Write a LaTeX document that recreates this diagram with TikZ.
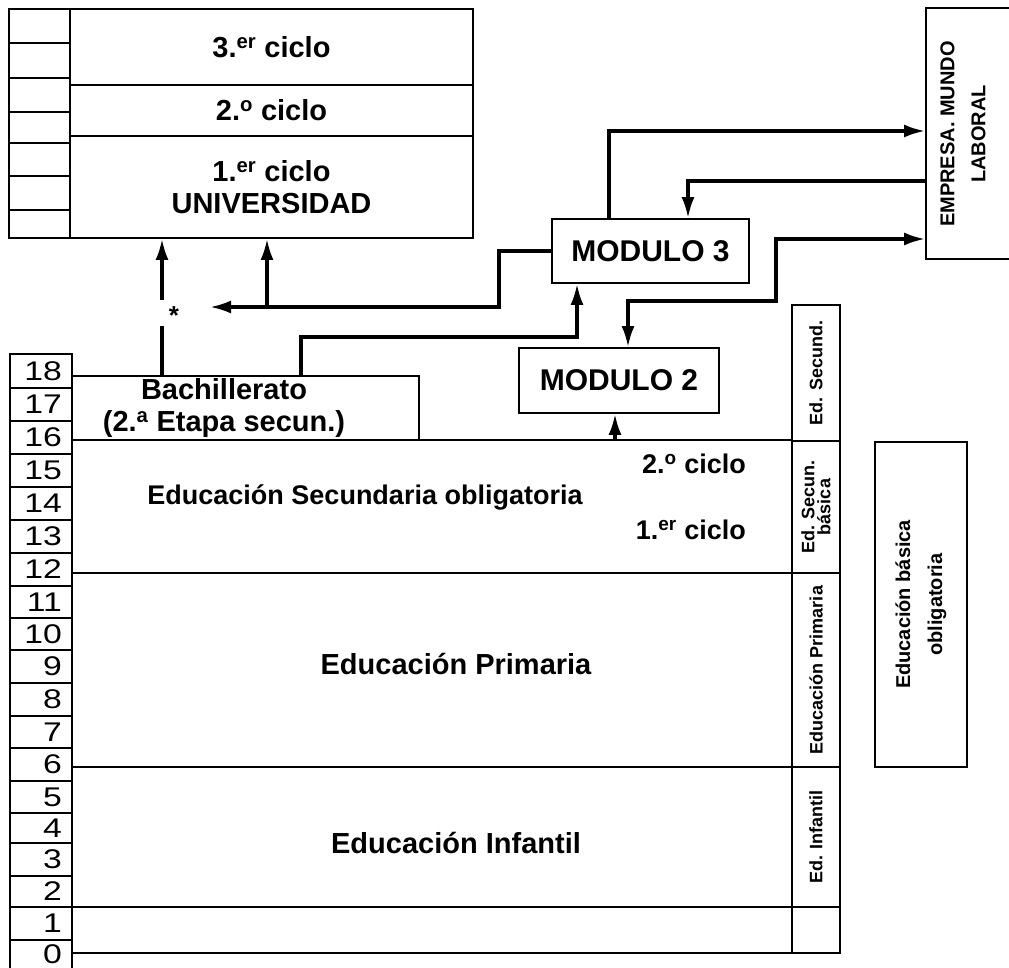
\documentclass[tikz,border=0pt]{standalone}
\usepackage{fontspec}
\setmainfont{Liberation Sans}
\newfontfamily\numfont[FakeStretch=1.25]{Liberation Sans}
\usetikzlibrary{arrows.meta,fit}
\newcommand{\sx}[1]{\textsuperscript{#1}}
\begin{document}
\begin{tikzpicture}[x=1pt,y=-1pt,
  box/.style={draw,line width=1.8pt,inner sep=0pt},
  conn/.style={line width=3.2pt},
  tip/.tip={Latex[length=21pt,width=13pt]},
  arr/.style={conn,-tip},
  dbl/.style={conn,tip-tip},
  txt/.style={inner sep=0pt,font=\fontsize{29}{32}\selectfont\bfseries,align=center},
  etxt/.style={inner sep=0pt,font=\fontsize{27}{30}\selectfont\bfseries,align=center},
  num/.style={inner sep=0pt,font=\numfont\fontsize{27}{27}\selectfont},
  vtxt/.style={inner sep=0pt,rotate=90,font=\fontsize{18}{18}\selectfont\bfseries,align=center},
]
\useasboundingbox (0,0) rectangle (1009,968);

% University block
\foreach \i/\t/\b in {1/9/43,2/43/78,3/78/112,4/112/143,5/143/176,6/176/210,7/210/238}{
  \node[box,fit={(9,\t)(70,\b)}] (sb\i) {};
}
\node[box,fit={(70,9)(473,85)}] (uni3) {};
\node[box,fit={(70,85)(473,136)}] (uni2) {};
\node[box,fit={(70,136)(473,238)}] (uni1) {};
\node[txt] (t3) at (uni3.center) {3.\sx{er} ciclo};
\node[txt] (t2) at (uni2.center) {2.\sx{o} ciclo};
\node[txt] (t1) at (uni1.center) {1.\sx{er} ciclo\\UNIVERSIDAD};

% Empresa
\node[box,fit={(926,8)(1040,259)}] (empresa) {};
\node[vtxt,font=\fontsize{20}{31}\selectfont\bfseries] (tempresa) at (963,134) {EMPRESA. MUNDO\\LABORAL};

% Modules
\node[box,fit={(552,219)(749,283)}] (mod3) {};
\node[txt,font=\fontsize{30}{32}\selectfont\bfseries] (tmod3) at (mod3.center) {MODULO 3};
\node[box,fit={(519,348)(719,413)}] (mod2) {};
\node[txt,font=\fontsize{30}{32}\selectfont\bfseries] (tmod2) at (mod2.center) {MODULO 2};

% Age column
\foreach \a/\t/\b in {18/354/388,17/388/421,16/421/454,15/454/487,14/487/520,13/520/553,12/553/586,11/586/618,10/618/650,9/650/683,8/683/716,7/716/748,6/748/781,5/781/813,4/813/843,3/843/876,2/876/907,1/907/940,0/940/990}{
  \node[box,fit={(10,\t)(72,\b)}] (age\a) {};
}
\foreach \a/\t/\b in {18/354/388,17/388/421,16/421/454,15/454/487,14/487/520,13/520/553,12/553/586,11/586/618,10/618/650,9/650/683,8/683/716,7/716/748,6/748/781,5/781/813,4/813/843,3/843/876,2/876/907,1/907/940,0/940/968}{
  \node[num,anchor=east] (agel\a) at (62,{(\t+\b)/2}) {\a};
}

% Main stages
\node[box,fit={(72,376)(419,440)}] (bach) {};
\node[txt] (tbach) at (224,408) {Bachillerato\\(2.\sx{a} Etapa secun.)};
\node[box,fit={(72,440)(792,573)}] (eso) {};
\node[etxt] (teso) at (365,497) {Educación Secundaria obligatoria};
\node[etxt,anchor=east] (teso2) at (746,464) {2.\sx{o} ciclo};
\node[etxt,anchor=east] (teso1) at (746,530) {1.\sx{er} ciclo};
\node[box,fit={(72,573)(792,767)}] (prim) {};
\node[txt] (tprim) at (456,664) {Educación Primaria};
\node[box,fit={(72,767)(792,907)}] (inf) {};
\node[txt] (tinf) at (456,843) {Educación Infantil};
\node[box,fit={(72,907)(792,953)}] (nur) {};

% Ed. column
\node[box,fit={(792,305)(840,441)}] (edsec) {};
\node[box,fit={(792,441)(840,573)}] (edbas) {};
\node[box,fit={(792,573)(840,767)}] (edprim) {};
\node[box,fit={(792,767)(840,907)}] (edinf) {};
\node[box,fit={(792,907)(840,953)}] (edemp) {};
\node[vtxt] (tedsec) at (edsec.center) {Ed. Secund.};
\node[vtxt,font=\fontsize{18}{16}\selectfont\bfseries] (tedbas) at (edbas.center) {Ed. Secun.\\básica};
\node[vtxt] (tedprim) at (edprim.center) {Educación Primaria};
\node[vtxt] (tedinf) at (edinf.center) {Ed. Infantil};

% Educacion basica obligatoria
\node[box,fit={(875,442)(967,767)}] (ebo) {};
\node[vtxt,font=\fontsize{20}{32}\selectfont\bfseries] (tebo) at (ebo.center) {Educación básica\\obligatoria};

% Connectors
\coordinate (gapB) at (162,326);
\coordinate (gapT) at (162,300);
\node[inner sep=0pt,font=\fontsize{26}{26}\selectfont\bfseries] (star) at (174,316) {*};
\draw[conn] (bach.north -| gapB) -- (gapB);
\draw[arr] (gapT) -- (uni1.south -| gapT);

\coordinate (tipL) at (210,307);
\coordinate (k1) at (499,307);
\draw[arr] (mod3.west) -| (k1) -- (tipL);
\coordinate (br) at (267,307);
\draw[arr] (br) -- (uni1.south -| br);

\coordinate (k2) at (301,337);
\coordinate (k3) at (577,337);
\draw[arr] (bach.north -| k2) -- (k2) -- (k3) -- (mod3.south -| k3);

\coordinate (k4) at (609,131);
\draw[arr] (mod3.north -| k4) -- (k4) -- (empresa.west |- k4);

\coordinate (k5) at (688,181);
\draw[arr] (empresa.west |- k5) -- (k5) -- (mod3.north -| k5);

\coordinate (k6) at (776,239);
\coordinate (k7) at (776,301);
\coordinate (k8) at (628,301);
\draw[dbl] (mod2.north -| k8) -- (k8) -- (k7) -- (k6) -- (empresa.west |- k6);

\coordinate (k9) at (615,440);
\draw[arr] (eso.north -| k9) -- (mod2.south -| k9);
\end{tikzpicture}
\end{document}
